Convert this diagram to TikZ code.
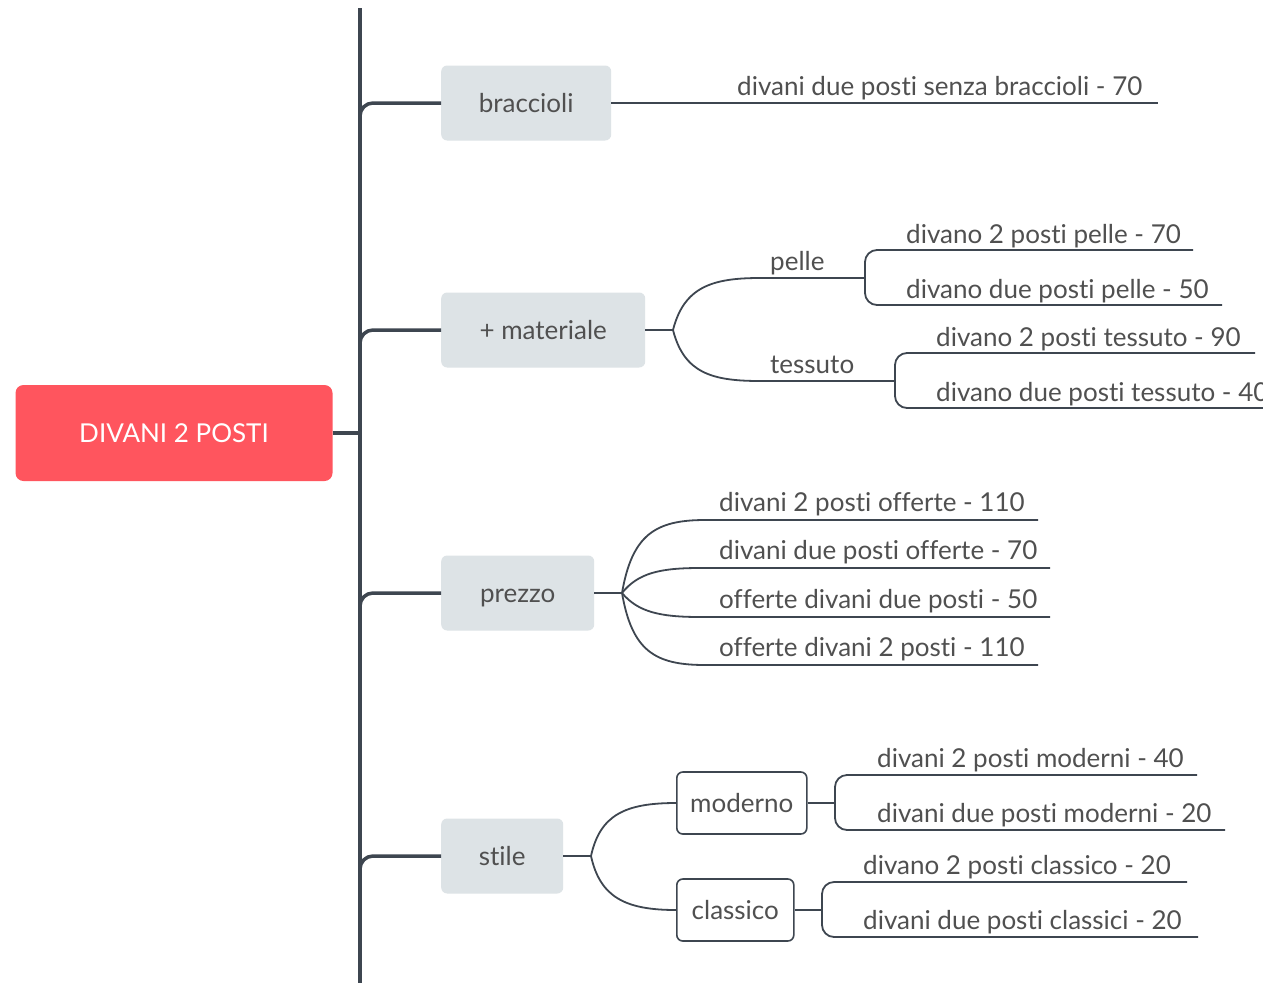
\documentclass[tikz,border=0pt]{standalone}
\usepackage{fontspec}
\setmainfont{Lato}[Ligatures=NoCommon]
\usetikzlibrary{calc}
\definecolor{linegray}{RGB}{62,70,80}
\definecolor{boxgray}{RGB}{221,227,230}
\definecolor{rootred}{RGB}{255,85,94}
\definecolor{textgray}{RGB}{80,80,80}
\tikzset{
  rootbox/.style={fill=rootred, rounded corners=8pt, minimum width=317pt, minimum height=96pt, text=white},
  catbox/.style={fill=boxgray, rounded corners=6pt, minimum height=75pt, text height=19pt, text depth=0pt, anchor=west, text=textgray},
  subbox/.style={draw=linegray, line width=1.6pt, fill=white, rounded corners=6pt, minimum height=62pt, text height=19pt, text depth=0pt, anchor=west, text=textgray},
  leaf/.style={anchor=base west, inner sep=0pt, text=textgray},
  trunk/.style={draw=linegray, line width=3.5pt},
  twig/.style={draw=linegray, line width=1.8pt}
}
\begin{document}
\begin{tikzpicture}[x=1pt,y=-1pt,font=\fontsize{26}{30}\selectfont]
\useasboundingbox[fill=white] (0,0) rectangle (1263,983);
\coordinate (top) at (360,8); \coordinate (bottom) at (360,983);
\draw[trunk] (top) -- (bottom);
\node[rootbox] (root) at (174,433) {DIVANI 2 POSTI};
\draw[trunk] (root.east) -- (root.east -| top);
\node[catbox, minimum width=170pt] (braccioli) at (441,103) {braccioli};
\node[catbox, minimum width=204pt] (materiale) at (441,330) {+ materiale};
\node[catbox, minimum width=153pt] (prezzo) at (441,593) {prezzo};
\node[catbox, minimum width=122pt] (stile) at (441,856) {stile};
\coordinate (j1) at (360,130); \coordinate (j2) at (360,357); \coordinate (j3) at (360,620); \coordinate (j4) at (360,883);
\draw[trunk, rounded corners=13pt] (j1) |- (braccioli.west);
\draw[trunk, rounded corners=13pt] (j2) |- (materiale.west);
\draw[trunk, rounded corners=13pt] (j3) |- (prezzo.west);
\draw[trunk, rounded corners=13pt] (j4) |- (stile.west);
\coordinate (brE) at (1158,103);
\draw[twig] (braccioli.east) -- (brE);
\node[leaf] (br1) at (737,95) {divani due posti senza braccioli - 70};
\coordinate (matS) at (673,330);
\coordinate (pelleA) at (760,278); \coordinate (pelleB) at (865,278);
\coordinate (tessA) at (760,381); \coordinate (tessB) at (895,381);
\draw[twig] (materiale.east) -- (matS);
\draw[twig] (matS) .. controls (684,287) and (712,278) .. (pelleA) -- (pelleB);
\draw[twig] (matS) .. controls (684,373) and (712,381) .. (tessA) -- (tessB);
\node[leaf] (pelle) at (770,270) {pelle};
\node[leaf] (tessuto) at (770,373) {tessuto};
\coordinate (pl1E) at (1193,250); \coordinate (pl2E) at (1222,305);
\draw[twig, rounded corners=12pt] (pelleB) |- (pl1E);
\draw[twig, rounded corners=12pt] (pelleB) |- (pl2E);
\node[leaf] (pl1) at (906,243) {divano 2 posti pelle - 70};
\node[leaf] (pl2) at (906,298) {divano due posti pelle - 50};
\coordinate (ts1E) at (1255,353); \coordinate (ts2E) at (1280,408);
\draw[twig, rounded corners=12pt] (tessB) |- (ts1E);
\draw[twig, rounded corners=12pt] (tessB) |- (ts2E);
\node[leaf] (ts1) at (936,346) {divano 2 posti tessuto - 90};
\node[leaf] (ts2) at (936,401) {divano due posti tessuto - 40};
\coordinate (prS) at (622,593);
\draw[twig] (prezzo.east) -- (prS);
\coordinate (pr1A) at (705,520); \coordinate (pr1E) at (1038,520);
\coordinate (pr2A) at (700,568); \coordinate (pr2E) at (1050,568);
\coordinate (pr3A) at (700,617); \coordinate (pr3E) at (1050,617);
\coordinate (pr4A) at (705,665); \coordinate (pr4E) at (1038,665);
\draw[twig] (prS) .. controls (632,535) and (655,520) .. (pr1A) -- (pr1E);
\draw[twig] (prS) .. controls (638,573) and (660,568) .. (pr2A) -- (pr2E);
\draw[twig] (prS) .. controls (638,612) and (660,617) .. (pr3A) -- (pr3E);
\draw[twig] (prS) .. controls (632,651) and (655,665) .. (pr4A) -- (pr4E);
\node[leaf] (pr1) at (719,511) {divani 2 posti offerte - 110};
\node[leaf] (pr2) at (719,559) {divani due posti offerte - 70};
\node[leaf] (pr3) at (719,608) {offerte divani due posti - 50};
\node[leaf] (pr4) at (719,656) {offerte divani 2 posti - 110};
\node[subbox, minimum width=130pt] (moderno) at (676,803) {moderno};
\node[subbox, minimum width=117pt] (classico) at (676,910) {classico};
\coordinate (stS) at (591,856);
\draw[twig] (stile.east) -- (stS);
\draw[twig] (stS) .. controls (600,815) and (625,803) .. (moderno.west);
\draw[twig] (stS) .. controls (600,897) and (625,910) .. (classico.west);
\coordinate (modS) at (835,803); \coordinate (md1E) at (1197,775); \coordinate (md2E) at (1225,830);
\draw[twig] (moderno.east) -- (modS);
\draw[twig, rounded corners=12pt] (modS) |- (md1E);
\draw[twig, rounded corners=12pt] (modS) |- (md2E);
\node[leaf] (md1) at (877,767) {divani 2 posti moderni - 40};
\node[leaf] (md2) at (877,822) {divani due posti moderni - 20};
\coordinate (clsS) at (822,910); \coordinate (cl1E) at (1187,882); \coordinate (cl2E) at (1198,937);
\draw[twig] (classico.east) -- (clsS);
\draw[twig, rounded corners=12pt] (clsS) |- (cl1E);
\draw[twig, rounded corners=12pt] (clsS) |- (cl2E);
\node[leaf] (cl1) at (863,874) {divano 2 posti classico - 20};
\node[leaf] (cl2) at (863,929) {divani due posti classici - 20};
\end{tikzpicture}
\end{document}
